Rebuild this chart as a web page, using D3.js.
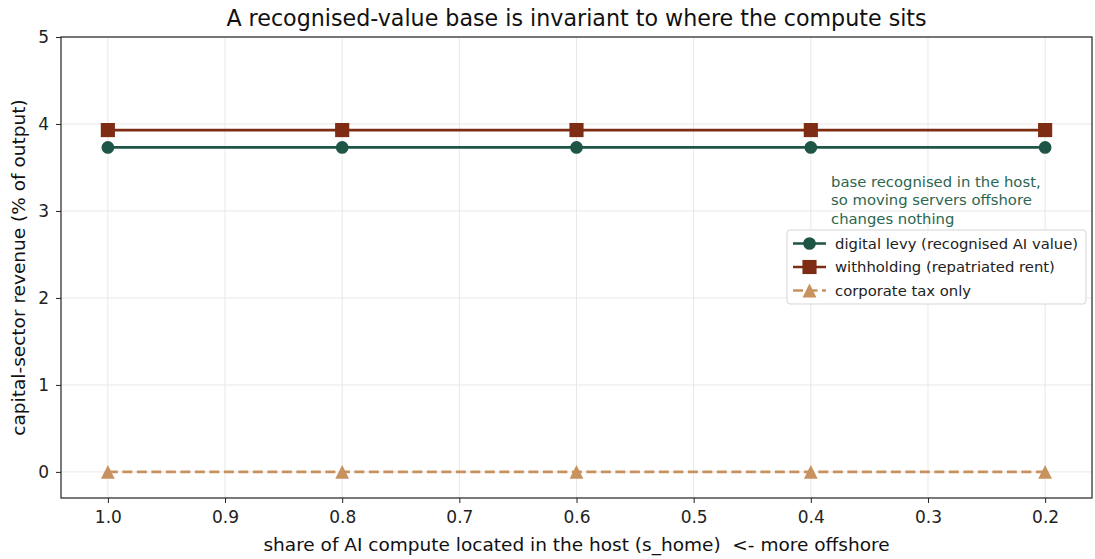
<!DOCTYPE html>
<html>
<head>
<meta charset="utf-8">
<script src="https://cdn.jsdelivr.net/npm/d3@7"></script>
<style>
  body { margin: 0; background: #fff; }
  svg { font-family: "DejaVu Sans", sans-serif; }
</style>
</head>
<body>
<div id="chart"></div>
<script>
// share of compute at home, plotted right-to-left
const sHome = [1.0, 0.8, 0.6, 0.4, 0.2];
const digitalLevy = [3.73, 3.73, 3.73, 3.73, 3.73];
const withholding = [3.93, 3.93, 3.93, 3.93, 3.93];
const corporateTax = [0, 0, 0, 0, 0];
const xTicks = [1.0, 0.9, 0.8, 0.7, 0.6, 0.5, 0.4, 0.3, 0.2];
const yTicks = [0, 1, 2, 3, 4, 5];

const series = [
  { name: "digital levy (recognised AI value)", values: digitalLevy, color: "#1e5546", marker: "circle", dash: null },
  { name: "withholding (repatriated rent)", values: withholding, color: "#7e2c14", marker: "square", dash: null },
  { name: "corporate tax only", values: corporateTax, color: "#c8925f", marker: "triangle", dash: "10,4.5" }
];

const width = 1095, height = 559;
const margin = { top: 37, right: 3, bottom: 61, left: 61 };

const svg = d3.select("#chart").append("svg")
  .attr("width", width)
  .attr("height", height);

const x = d3.scaleLinear()
  .domain([1.04, 0.16])
  .range([margin.left, width - margin.right]);

const y = d3.scaleLinear()
  .domain([-0.3, 5])
  .range([height - margin.bottom, margin.top]);

// grid
svg.append("g")
  .selectAll("line")
  .data(xTicks)
  .join("line")
  .attr("x1", d => x(d)).attr("x2", d => x(d))
  .attr("y1", margin.top).attr("y2", height - margin.bottom)
  .attr("stroke", "#e8e8e8").attr("stroke-width", 1);

svg.append("g")
  .selectAll("line")
  .data(yTicks)
  .join("line")
  .attr("x1", margin.left).attr("x2", width - margin.right)
  .attr("y1", d => y(d)).attr("y2", d => y(d))
  .attr("stroke", "#e8e8e8").attr("stroke-width", 1);

// axes
svg.append("g")
  .attr("transform", `translate(0,${height - margin.bottom})`)
  .call(d3.axisBottom(x).tickValues(xTicks).tickFormat(d3.format(".1f")).tickSizeOuter(0).tickSize(5).tickPadding(8))
  .call(g => g.select(".domain").remove())
  .call(g => g.selectAll("text").attr("font-size", 17).attr("fill", "#222").attr("font-family", "DejaVu Sans"))
  .call(g => g.selectAll("line").attr("stroke", "#222"));

svg.append("g")
  .attr("transform", `translate(${margin.left},0)`)
  .call(d3.axisLeft(y).tickValues(yTicks).tickFormat(d3.format("d")).tickSizeOuter(0).tickSize(5).tickPadding(7))
  .call(g => g.select(".domain").remove())
  .call(g => g.selectAll("text").attr("font-size", 17).attr("fill", "#222").attr("font-family", "DejaVu Sans"))
  .call(g => g.selectAll("line").attr("stroke", "#222"));

// frame
svg.append("rect")
  .attr("x", margin.left).attr("y", margin.top)
  .attr("width", width - margin.left - margin.right)
  .attr("height", height - margin.top - margin.bottom)
  .attr("fill", "none").attr("stroke", "#222").attr("stroke-width", 1.2);

// lines and markers
const line = d3.line().x((d, i) => x(sHome[i])).y(d => y(d));

// matplotlib-style "^": width equals height, centred on its box
const tri = r => `M0,${-r}L${r},${r}L${-r},${r}Z`;
const symbols = {
  circle: () => d3.symbol().type(d3.symbolCircle).size(127)(),
  square: () => d3.symbol().type(d3.symbolSquare).size(200)(),
  triangle: () => tri(6.9)
};

series.forEach(s => {
  svg.append("path")
    .datum(s.values)
    .attr("d", line)
    .attr("fill", "none")
    .attr("stroke", s.color)
    .attr("stroke-width", 2.7)
    .attr("stroke-dasharray", s.dash);

  svg.append("g")
    .selectAll("path")
    .data(s.values)
    .join("path")
    .attr("transform", (d, i) => `translate(${x(sHome[i])},${y(d)})`)
    .attr("d", symbols[s.marker]())
    .attr("fill", s.color);
});

// title
svg.append("text")
  .attr("x", (margin.left + width - margin.right) / 2)
  .attr("y", 26)
  .attr("text-anchor", "middle")
  .attr("font-size", 22.2)
  .attr("fill", "#111")
  .text("A recognised-value base is invariant to where the compute sits");

// axis labels
svg.append("text")
  .attr("x", (margin.left + width - margin.right) / 2)
  .attr("y", 551)
  .attr("text-anchor", "middle")
  .attr("font-size", 18.5)
  .attr("fill", "#111")
  .style("white-space", "pre")
  .text("share of AI compute located in the host (s_home)  <- more offshore");

svg.append("text")
  .attr("transform", `translate(25,${(margin.top + height - margin.bottom) / 2}) rotate(-90)`)
  .attr("text-anchor", "middle")
  .attr("font-size", 18.5)
  .attr("fill", "#111")
  .text("capital-sector revenue (% of output)");

// annotation
const note = ["base recognised in the host,", "so moving servers offshore", "changes nothing"];
svg.append("text")
  .attr("font-size", 14.8)
  .attr("fill", "#2b6650")
  .selectAll("tspan")
  .data(note)
  .join("tspan")
  .attr("x", 831)
  .attr("y", (d, i) => 187 + i * 18.3)
  .text(d => d);

// legend
const legend = svg.append("g");
legend.append("rect")
  .attr("x", 787).attr("y", 230)
  .attr("width", 299).attr("height", 74)
  .attr("rx", 3)
  .attr("fill", "#fff").attr("fill-opacity", 0.85)
  .attr("stroke", "#d5d5d5");

series.forEach((s, i) => {
  const ly = 243.5 + i * 23.5;
  const g = legend.append("g");
  g.append("line")
    .attr("x1", 793).attr("x2", 826)
    .attr("y1", ly).attr("y2", ly)
    .attr("stroke", s.color).attr("stroke-width", 2.7)
    .attr("stroke-dasharray", s.dash);
  g.append("path")
    .attr("transform", `translate(809.5,${ly})`)
    .attr("d", symbols[s.marker]())
    .attr("fill", s.color);
  g.append("text")
    .attr("x", 835).attr("y", ly)
    .attr("dy", "0.35em")
    .attr("font-size", 14.8)
    .attr("fill", "#222")
    .text(s.name);
});
</script>
</body>
</html>
